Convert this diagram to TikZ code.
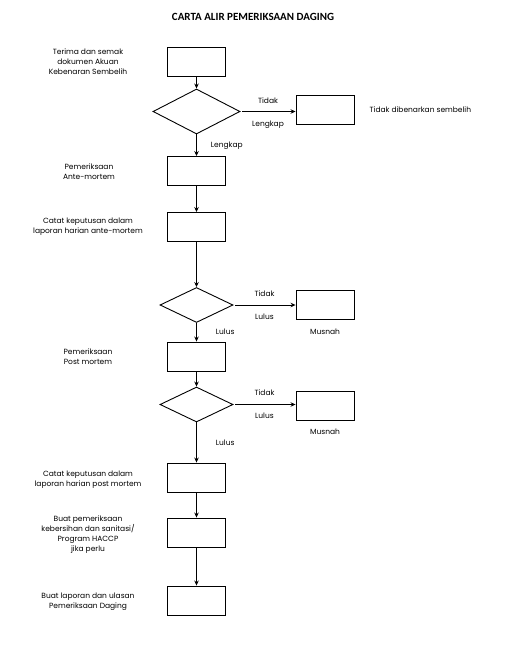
\documentclass[tikz,border=0pt]{standalone}
\usepackage{fontspec}
\setmainfont{Poppins}
\newfontfamily\titlefont{Carlito}
\usetikzlibrary{shapes.geometric,arrows.meta,positioning}

\tikzset{
    stepbox/.style={draw, line width=0.9pt, minimum width=58pt, minimum height=29pt, inner sep=0pt},
    check/.style={draw, diamond, line width=0.9pt, minimum width=73pt, minimum height=35pt, inner sep=0pt},
    note/.style={font=\fontsize{7.5}{10}\selectfont, align=center, inner sep=0pt},
    flow/.style={-{Stealth[length=5pt,width=4.5pt]}, line width=0.9pt},
}

\begin{document}
\begin{tikzpicture}[x=1pt, y=-1pt]
    \useasboundingbox (0,0) rectangle (512,645);

    % Title
    \node[font=\titlefont\bfseries\fontsize{11}{13}\selectfont] (title) at (253,17) {CARTA ALIR PEMERIKSAAN DAGING};

    % Main column of steps
    \node[stepbox] (recv) at (196.5,62) {};
    \node[check, minimum width=87pt, minimum height=45pt] (chk1) at (196.5,111.5) {};
    \node[stepbox] (ante) at (196.5,171) {};
    \node[stepbox] (anterec) at (196.5,227) {};
    \node[check] (chk2) at (196.5,305) {};
    \node[stepbox] (post) at (196.5,356.5) {};
    \node[check] (chk3) at (196.5,404.5) {};
    \node[stepbox] (postrec) at (196.5,477.5) {};
    \node[stepbox] (hygiene) at (196.5,532.5) {};
    \node[stepbox] (report) at (196.5,600.5) {};

    % Side boxes
    \node[stepbox] (reject) at (325,110) {};
    \node[stepbox] (dest1) at (325,304.5) {};
    \node[stepbox] (dest2) at (325,405.5) {};

    % Texts beside the steps
    \node[note] (t1) at (88,61.5) {Terima dan semak\\dokumen Akuan\\Kebenaran Sembelih};
    \node[note] (t2) at (89,172) {Pemeriksaan\\Ante-mortem};
    \node[note] (t3) at (88,227) {Catat keputusan dalam\\laporan harian ante-mortem};
    \node[note] (t4) at (88,357) {Pemeriksaan\\Post mortem};
    \node[note] (t5) at (88,480) {Catat keputusan dalam\\laporan harian post mortem};
    \node[note] (t6) at (88,535) {Buat pemeriksaan\\kebersihan dan sanitasi/\\Program HACCP\\jika perlu};
    \node[note] (t7) at (88,602) {Buat laporan dan ulasan\\Pemeriksaan Daging};
    \node[note, right=15pt of reject] (t8) {Tidak dibenarkan sembelih};
    \node[note, below=9pt of dest1] (t9) {Musnah};
    \node[note, below=8pt of dest2] (t10) {Musnah};

    % Arrows down
    \draw[flow] (recv) -- (chk1);
    \draw[flow] (chk1) -- node[note, midway, right=14pt] {Lengkap} (ante);
    \draw[flow] (ante) -- (anterec);
    \draw[flow] (anterec) -- (chk2);
    \draw[flow] (chk2) -- node[note, midway, right=19pt] {Lulus} (post);
    \draw[flow] (post) -- (chk3);
    \draw[flow] (chk3) -- node[note, midway, right=19pt] {Lulus} (postrec);
    \draw[flow] (postrec) -- (hygiene);
    \draw[flow] (hygiene) -- (report);

    % Arrows to the right
    \draw[flow, shorten <=2pt] (chk1.east) -- node[note, above=7pt] {Tidak} node[note, below=9pt] {Lengkap} (chk1.east -| reject.west);
    \draw[flow, shorten <=2pt] (chk2.east) -- node[note, above=8pt] {Tidak} node[note, below=8pt] {Lulus} (chk2.east -| dest1.west);
    \draw[flow, shorten <=2pt] (chk3.east) -- node[note, above=8pt] {Tidak} node[note, below=8pt] {Lulus} (chk3.east -| dest2.west);
\end{tikzpicture}
\end{document}
